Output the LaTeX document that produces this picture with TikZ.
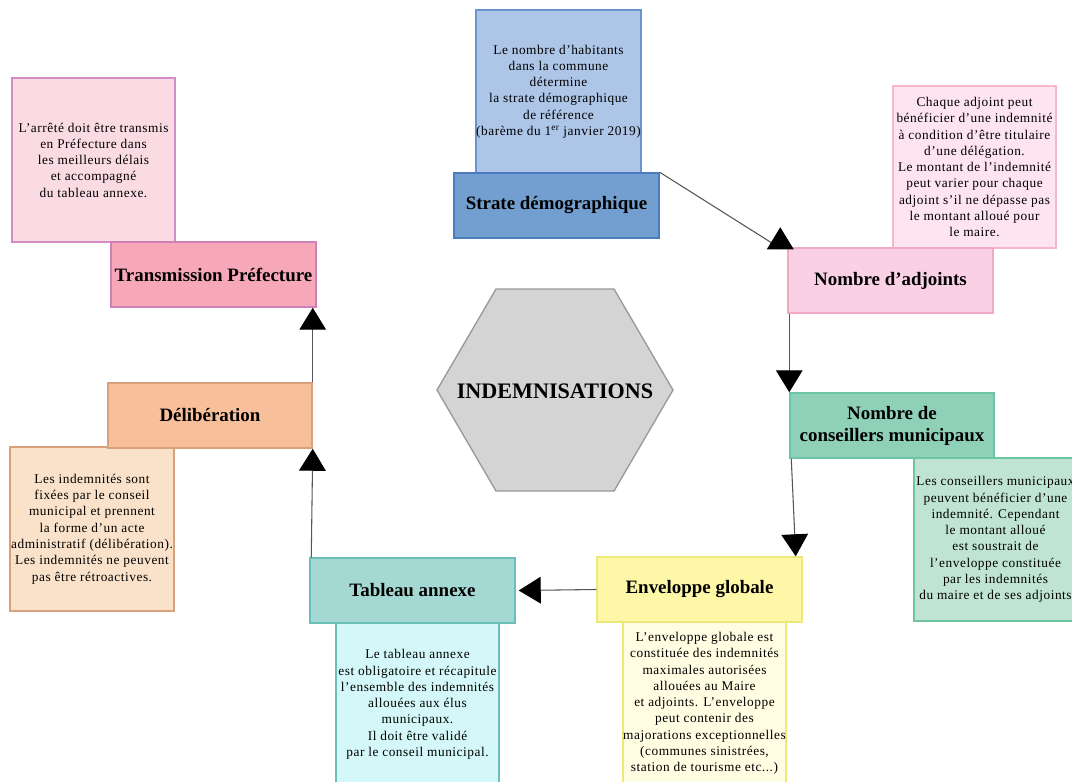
\documentclass[tikz,border=0pt]{standalone}
\usepackage{fontspec}
\setmainfont{Liberation Serif}
\newfontfamily\notefont[LetterSpace=4]{Liberation Serif}
\usetikzlibrary{arrows.meta,calc}
\definecolor{strnoteF}{HTML}{ADC5E7}\definecolor{strnoteD}{HTML}{6A93D0}
\definecolor{strF}{HTML}{729FCF}\definecolor{strD}{HTML}{4A7CBF}
\definecolor{trnoteF}{HTML}{FADBE3}\definecolor{trnoteD}{HTML}{D08DC6}
\definecolor{trF}{HTML}{F7A8B8}\definecolor{trD}{HTML}{D080B8}
\definecolor{adjnoteF}{HTML}{FDE4F0}\definecolor{adjnoteD}{HTML}{F6B6CC}
\definecolor{adjF}{HTML}{FAD0E4}\definecolor{adjD}{HTML}{F2A9C8}
\definecolor{consF}{HTML}{8FD0B8}\definecolor{consD}{HTML}{6DC5A6}
\definecolor{consnoteF}{HTML}{C0E4D4}
\definecolor{envF}{HTML}{FFF7A8}\definecolor{envD}{HTML}{EEE77A}
\definecolor{envnoteF}{HTML}{FFFDE2}
\definecolor{tabF}{HTML}{A4D8D2}\definecolor{tabD}{HTML}{6ABFB8}
\definecolor{tabnoteF}{HTML}{D4F8F9}
\definecolor{delF}{HTML}{F8C09A}\definecolor{delD}{HTML}{D9A07C}
\definecolor{delnoteF}{HTML}{FAE2CA}
\definecolor{hexF}{HTML}{D4D4D4}\definecolor{hexD}{HTML}{999999}
\definecolor{lineC}{HTML}{555555}
\tikzset{
  mainbox/.style={draw, line width=1.1pt, minimum width=153.75pt, minimum height=48.75pt, inner sep=0pt, align=center, font=\fontsize{14.2}{16.5}\selectfont\bfseries},
  notebox/.style={draw, line width=1.1pt, minimum width=122.25pt, minimum height=122.25pt, inner sep=0pt, align=center, font=\notefont\fontsize{10}{12.2}\selectfont},
  conn/.style={draw=lineC, line width=0.8pt, -{Triangle[length=16.5pt,width=20pt,fill=black,color=black]}}
}
\begin{document}
\begin{tikzpicture}[x=0.75pt,y=-0.75pt]
\useasboundingbox (0,0) rectangle (1072,782);
% notes
\node[notebox, fill=strnoteF, draw=strnoteD] (strnote) at (558.5,91.5) {Le nombre d’habitants\\dans la commune\\détermine\\la strate démographique\\de référence\\(barème du 1\textsuperscript{er} janvier 2019)};
\node[notebox, fill=trnoteF, draw=trnoteD, minimum height=123pt] (trnote) at (93.5,160) {L’arrêté doit être transmis\\en Préfecture dans\\les meilleurs délais\\et accompagné\\du tableau annexe.};
\node[notebox, fill=adjnoteF, draw=adjnoteD, minimum height=121.5pt] (adjnote) at (974.5,167) {Chaque adjoint peut\\bénéficier d’une indemnité\\à condition d’être titulaire\\d’une délégation.\\Le montant de l’indemnité\\peut varier pour chaque\\adjoint s’il ne dépasse pas\\le montant alloué pour\\le maire.};
\node[notebox, fill=consnoteF, draw=consD] (consnote) at (995.5,539.5) {Les conseillers municipaux\\peuvent bénéficier d’une\\indemnité. Cependant\\le montant alloué\\est soustrait de\\l’enveloppe constituée\\par les indemnités\\du maire et de ses adjoints};
\node[notebox, fill=envnoteF, draw=envD] (envnote) at (704.5,703.5) {L’enveloppe globale est\\constituée des indemnités\\maximales autorisées\\allouées au Maire\\et adjoints. L’enveloppe\\peut contenir des\\majorations exceptionnelles\\(communes sinistrées,\\station de tourisme etc...)};
\node[notebox, fill=tabnoteF, draw=tabD] (tabnote) at (417.5,704.5) {Le tableau annexe\\est obligatoire et récapitule\\l’ensemble des indemnités\\allouées aux élus\\municipaux.\\Il doit être validé\\par le conseil municipal.};
\node[notebox, fill=delnoteF, draw=delD, minimum width=123pt, minimum height=123pt] (delnote) at (92,529) {Les indemnités sont\\fixées par le conseil\\municipal et prennent\\la forme d’un acte\\administratif (délibération).\\Les indemnités ne peuvent\\pas être rétroactives.};
% main boxes
\node[mainbox, fill=strF, draw=strD] (str) at (556.5,205.5) {Strate démographique};
\node[mainbox, fill=trF, draw=trD] (tr) at (213.5,274.5) {Transmission Préfecture};
\node[mainbox, fill=adjF, draw=adjD] (adj) at (890.5,280.5) {Nombre d’adjoints};
\node[mainbox, fill=consF, draw=consD, minimum width=153pt] (cons) at (892,425.5) {Nombre de\\conseillers municipaux};
\node[mainbox, fill=envF, draw=envD] (env) at (699.5,589.5) {Enveloppe globale};
\node[mainbox, fill=tabF, draw=tabD] (tab) at (412.5,590.5) {Tableau annexe};
\node[mainbox, fill=delF, draw=delD, minimum width=153pt] (del) at (210,415.5) {Délibération};
% hexagon
\fill[hexF, draw=hexD, line width=1pt] (437,390) -- (496,289) -- (614,289) -- (673,390) -- (614,491) -- (496,491) -- cycle;
\node[font=\fontsize{16.6}{19}\selectfont\bfseries] (hex) at (555,391) {INDEMNISATIONS};
% connectors
\draw[conn] (str.north east) -- ($(adj.north west)+(-7,1)$) -- ($(adj.north west)+(-7,-20)$);
\draw[conn] ($(adj.south west)+(2,0)$) -- ($(cons.north west)+(0,0)$);
\draw[conn] ($(cons.south west)+(2,0)$) -- ($(env.north east)+(-7,0)$);
\draw[conn] (env.west) -- ($(tab.east)+(3,0)$);
\draw[conn] ($(tab.north west)+(2,0)$) -- (del.south east);
\draw[conn] (del.north east) -- ($(tr.south east)+(-4,0)$);
\end{tikzpicture}
\end{document}
